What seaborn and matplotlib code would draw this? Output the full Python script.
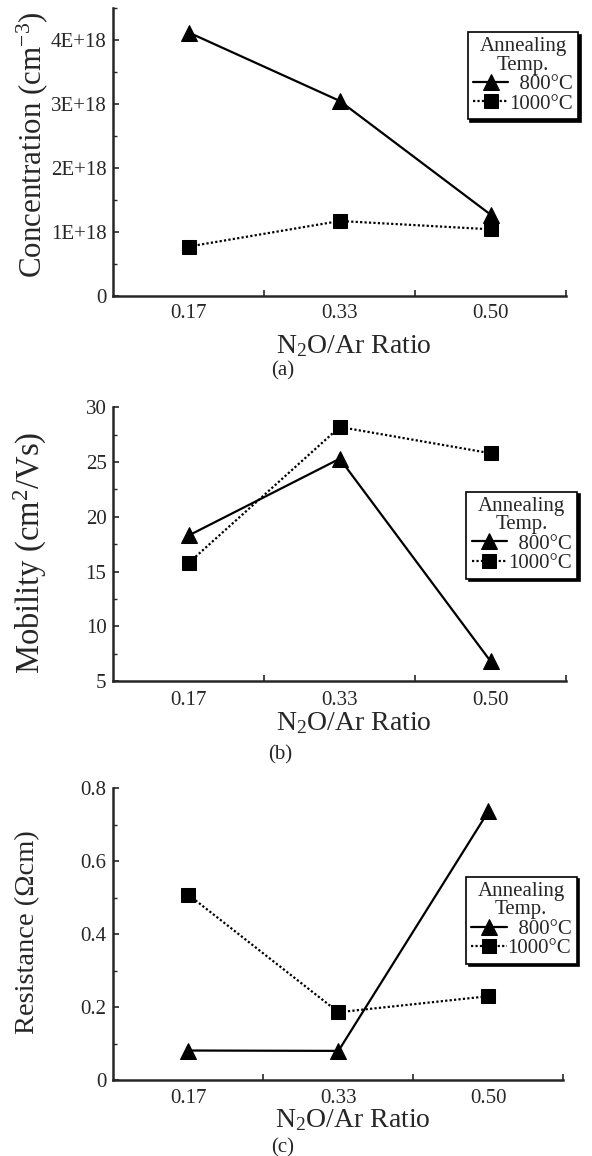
import pandas as pd
import seaborn as sns
import matplotlib.pyplot as plt
from matplotlib.ticker import FixedLocator, MultipleLocator, FixedFormatter

# data
ratios = ["0.17", "0.33", "0.50"]
conc_800 = [4.12e18, 3.05e18, 1.27e18]
conc_1000 = [0.77e18, 1.17e18, 1.04e18]
mob_800 = [18.3, 25.3, 6.8]
mob_1000 = [15.8, 28.2, 25.8]
res_800 = [0.081, 0.080, 0.737]
res_1000 = [0.508, 0.186, 0.230]

conc_ticks = [0, 1e18, 2e18, 3e18, 4e18]
conc_ticklabels = ["0", "1E+18", "2E+18", "3E+18", "4E+18"]
mob_ticks = [5, 10, 15, 20, 25, 30]
res_ticks = [0, 0.2, 0.4, 0.6, 0.8]
res_ticklabels = ["0", "0.2", "0.4", "0.6", "0.8"]

sns.set_style("ticks")
plt.rcParams['font.family'] = ['Liberation Serif', 'DejaVu Serif']
plt.rcParams['mathtext.fontset'] = 'custom'
plt.rcParams['mathtext.rm'] = 'Liberation Serif'
plt.rcParams['mathtext.it'] = 'Liberation Serif:italic'


def draw_panel(ax, v800, v1000, ylim, yticks, yticklabels, yminor, ylabel,
               ylabel_size, ylabel_pos, xlabel_y, xpad, legend_anchor, fig):
    df = pd.DataFrame({"ratio": ratios, "t800": v800, "t1000": v1000})
    sns.lineplot(data=df, x="ratio", y="t800", ax=ax, color="k", marker="^",
                 markersize=11, linewidth=1.6, linestyle="-", sort=False,
                 markeredgecolor="k", label="\u2007800\u00b0C")
    sns.lineplot(data=df, x="ratio", y="t1000", ax=ax, color="k", marker="s",
                 markersize=10, linewidth=1.6, linestyle=(0, (1, 1)), sort=False,
                 markeredgecolor="k", label="1000\u00b0C")

    ax.set_xlim(-0.5, 2.5)
    ax.set_ylim(*ylim)
    ax.yaxis.set_major_locator(FixedLocator(yticks))
    ax.yaxis.set_major_formatter(FixedFormatter(yticklabels))
    ax.yaxis.set_minor_locator(MultipleLocator(yminor))
    ax.xaxis.set_minor_locator(FixedLocator([0.5, 1.5, 2.5]))

    ax.tick_params(axis="y", which="major", direction="in", length=4, width=1.2,
                   pad=5, labelsize=15)
    ax.tick_params(axis="y", which="minor", direction="in", length=3, width=1.0)
    ax.tick_params(axis="x", which="major", length=0, pad=xpad, labelsize=15)
    ax.tick_params(axis="x", which="minor", direction="in", length=4, width=1.2)

    sns.despine(ax=ax)
    for side in ["left", "bottom"]:
        ax.spines[side].set_linewidth(1.8)

    ax.set_ylabel(ylabel, fontsize=ylabel_size)
    ax.yaxis.set_label_coords(*ylabel_pos)
    ax.yaxis.label.set_va("center")
    ax.set_xlabel("N$_2$O/Ar Ratio", fontsize=20)
    ax.xaxis.set_label_coords(0.531, xlabel_y)
    ax.xaxis.label.set_va("baseline")

    leg = ax.legend(title="Annealing\nTemp.", loc="upper left",
                    bbox_to_anchor=legend_anchor, bbox_transform=fig.transFigure,
                    borderaxespad=0, fontsize=15, title_fontsize=15,
                    frameon=True, fancybox=False, framealpha=1,
                    edgecolor="k", handlelength=1.7, handletextpad=0.05,
                    borderpad=0.25, labelspacing=0.0, markerscale=1.0,
                    shadow={"color": "k", "alpha": 1})
    leg.get_frame().set_linewidth(1.2)
    leg.get_title().set_multialignment("center")
    leg.get_title().set_linespacing(0.95)


fig = plt.figure(figsize=(5.92, 11.56), dpi=100)
ax_a = fig.add_axes([0.1917, 0.7442, 0.7644, 0.2486])
ax_b = fig.add_axes([0.1917, 0.4109, 0.7644, 0.2368])
ax_c = fig.add_axes([0.1917, 0.0657, 0.7600, 0.2523])

draw_panel(ax_a, conc_800, conc_1000, (0, 4.5e18), conc_ticks, conc_ticklabels,
           0.5e18, "Concentration (cm$^{-3}$)", 22.3, (-0.18, 0.524), -0.199, 6,
           (0.790, 0.9723), fig)
draw_panel(ax_b, mob_800, mob_1000, (5, 30), mob_ticks,
           [str(t) for t in mob_ticks], 2.5, "Mobility (cm$^2$/Vs)", 23.5,
           (-0.183, 0.47), -0.179, 7, (0.788, 0.5747), fig)
draw_panel(ax_c, res_800, res_1000, (0, 0.8), res_ticks, res_ticklabels,
           0.1, "Resistance (\u03a9cm)", 20.5, (-0.19, 0.508), -0.162, 6.5,
           (0.787, 0.2416), fig)

fig.text(282.5 / 592, 1 - 371 / 1156, "(a)", ha="center", va="center", fontsize=15)
fig.text(280.0 / 592, 1 - 755 / 1156, "(b)", ha="center", va="center", fontsize=15)
fig.text(282.5 / 592, 1 - 1148 / 1156, "(c)", ha="center", va="center", fontsize=15)

fig.savefig("out.png", dpi=100)
